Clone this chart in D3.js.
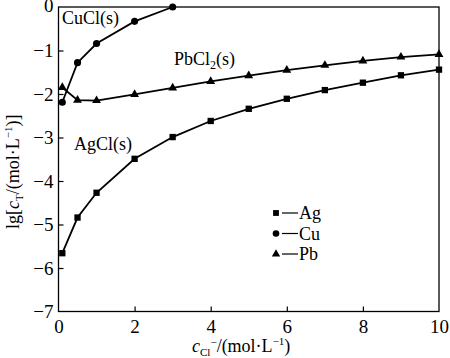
<!DOCTYPE html>
<html>
<head>
<meta charset="utf-8">
<script src="https://cdn.jsdelivr.net/npm/d3@7"></script>
<style>
  body { margin: 0; background: #fff; }
  text { font-family: "Liberation Serif", "Times New Roman", serif; fill: #000; }
</style>
</head>
<body>
<svg id="chart" width="450" height="358"></svg>
<script>
// values
const agX = [0.1, 0.5, 1, 2, 3, 4, 5, 6, 7, 8, 9, 10];
const agY = [-5.66, -4.84, -4.27, -3.49, -2.99, -2.62, -2.34, -2.11, -1.91, -1.74, -1.57, -1.44];
const cuX = [0.1, 0.5, 1, 2, 3];
const cuY = [-2.19, -1.28, -0.84, -0.33, 0];
const pbX = [0.1, 0.5, 1, 2, 3, 4, 5, 6, 7, 8, 9, 10];
const pbY = [-1.85, -2.14, -2.15, -2.01, -1.86, -1.71, -1.58, -1.45, -1.34, -1.24, -1.15, -1.09];
const xTicks = [0, 2, 4, 6, 8, 10];
const yTicks = [0, -1, -2, -3, -4, -5, -6, -7];

const svg = d3.select("#chart");
const margin = {left: 58.5, right: 11, top: 7, bottom: 46.5};
const W = 450, H = 358;
const serif = "'Liberation Serif', 'Times New Roman', serif";

const x = d3.scaleLinear().domain([0, 10]).range([margin.left, W - margin.right]);
const y = d3.scaleLinear().domain([-7, 0]).range([H - margin.bottom, margin.top]);

// frame
svg.append("rect")
    .attr("x", x(0)).attr("y", y(0))
    .attr("width", x(10) - x(0)).attr("height", y(-7) - y(0))
    .attr("fill", "none").attr("stroke", "#000").attr("stroke-width", 1.3);

// axes with inward ticks
const xAxis = svg.append("g")
    .attr("transform", `translate(0,${y(-7)})`)
    .call(d3.axisBottom(x).tickValues(xTicks).tickSize(-5).tickPadding(7).tickFormat(d3.format("d")));
const yAxis = svg.append("g")
    .attr("transform", `translate(${x(0)},0)`)
    .call(d3.axisLeft(y).tickValues(yTicks).tickSize(-5).tickPadding(5)
        .tickFormat(d => d < 0 ? "\u2212" + Math.abs(d) : d));
[xAxis, yAxis].forEach(a => {
    a.attr("font-family", serif);
    a.select(".domain").remove();
    a.selectAll(".tick line").attr("stroke", "#000").attr("stroke-width", 1.2);
    a.selectAll("text").style("font-size", "19px").style("font-family", serif).attr("fill", "#000");
});
xAxis.selectAll("text").attr("dy", "0.75em");
yAxis.selectAll(".tick").filter(d => d === 0).select("text").attr("dy", "0.25em");
xAxis.selectAll(".tick").filter(d => d === 0 || d === 10).select("line").remove();
yAxis.selectAll(".tick").filter(d => d === 0 || d === -7).select("line").remove();

const line = d3.line().x(d => x(d[0])).y(d => y(d[1]));

function series(xs, ys, shape) {
    const pts = xs.map((v, i) => [v, ys[i]]);
    svg.append("path").datum(pts).attr("d", line)
        .attr("fill", "none").attr("stroke", "#000").attr("stroke-width", 1.8);
    svg.append("g").selectAll("path").data(pts).join("path")
        .attr("transform", d => `translate(${x(d[0])},${y(d[1])})`)
        .attr("d", d3.symbol().type(shape).size(shape === d3.symbolTriangle ? 34 : 40))
        .attr("fill", "#000");
}
series(agX, agY, d3.symbolSquare);
series(cuX, cuY, d3.symbolCircle);
series(pbX, pbY, d3.symbolTriangle);

// curve labels
function label(xp, yp) {
    return svg.append("text").attr("x", xp).attr("y", yp).style("font-size", "18px");
}
label(62, 24).text("CuCl(s)");
const pl = label(174, 65);
pl.append("tspan").text("PbCl");
pl.append("tspan").attr("dy", 4).style("font-size", "12px").text("2");
pl.append("tspan").attr("dy", -4).text("(s)");
label(74, 150).text("AgCl(s)");

// legend
const legend = [["Ag", d3.symbolSquare], ["Cu", d3.symbolCircle], ["Pb", d3.symbolTriangle]];
legend.forEach((l, i) => {
    const ly = 213 + i * 20.5;
    svg.append("path").attr("transform", `translate(276,${ly})`)
        .attr("d", d3.symbol().type(l[1]).size(l[1] === d3.symbolTriangle ? 30 : 34)).attr("fill", "#000");
    svg.append("line").attr("x1", 282).attr("x2", 298).attr("y1", ly).attr("y2", ly)
        .attr("stroke", "#000").attr("stroke-width", 1.2);
    svg.append("text").attr("x", 299).attr("y", ly + 6).style("font-size", "18px").text(l[0]);
});

// axis titles
const xt = svg.append("text").attr("x", 192).attr("y", 352).style("font-size", "18px");
xt.append("tspan").style("font-style", "italic").text("c");
xt.append("tspan").attr("dy", 4).style("font-size", "11px").text("Cl");
xt.append("tspan").attr("dy", -10).style("font-size", "11px").text("\u2212");
xt.append("tspan").attr("dy", 6).text("/(mol\u00b7L");
xt.append("tspan").attr("dy", -7).style("font-size", "11px").text("\u22121");
xt.append("tspan").attr("dy", 7).text(")");

const yt = svg.append("text").attr("transform", "translate(19,229) rotate(-90)").style("font-size", "18px");
yt.append("tspan").text("lg[");
yt.append("tspan").style("font-style", "italic").text("c");
yt.append("tspan").attr("dy", 4).style("font-size", "11px").text("T");
yt.append("tspan").attr("dy", -4).text("/(mol\u00b7L");
yt.append("tspan").attr("dy", -7).style("font-size", "11px").text("\u22121");
yt.append("tspan").attr("dy", 7).text(")]");
</script>
</body>
</html>
